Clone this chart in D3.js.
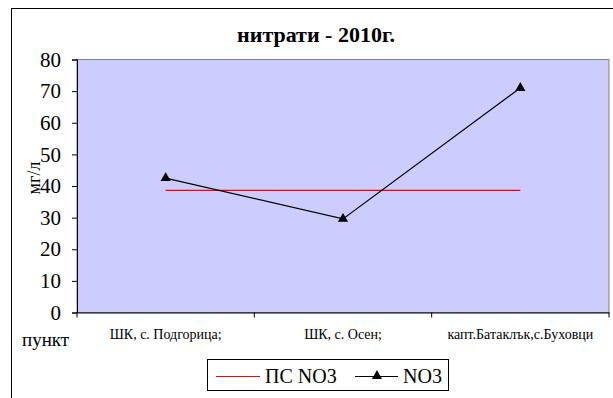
<!DOCTYPE html>
<html><head><meta charset="utf-8">
<script src="https://cdn.jsdelivr.net/npm/d3@7"></script>
<style>body{margin:0;background:#fff}svg{display:block}</style>
</head><body>
<script>
const categories = ["ШК, с. Подгорица;", "ШК, с. Осен;", "капт.Батаклък,с.Буховци"];
const no3Values = [42.5, 29.6, 71.0];
const limitValues = [38.6, 38.6, 38.6];
const yTicks = [0, 10, 20, 30, 40, 50, 60, 70, 80];
const title = "нитрати - 2010г.";
const yLabel = "мг/л";
const xLabel = "пункт";
const seriesNames = ["ПС NO3", "NO3"];

const FONT = '"Liberation Serif"';
const W = 613, H = 398;
const svg = d3.select("body").append("svg").attr("width", W).attr("height", H)
  .style("font-family", FONT);

// chart border
svg.append("rect").attr("x", 11.5).attr("y", 8.5).attr("width", 700).attr("height", 500)
  .attr("fill", "#fff").attr("stroke", "#000").attr("stroke-width", 1);

const pl = 77, pr = 609, pt = 59.5, pb = 312.5;
const x = d3.scaleBand().domain(categories).range([pl, pr]).padding(0);
const y = d3.scaleLinear().domain([0, 80]).range([pb, pt]);

// plot area
svg.append("rect").attr("x", pl).attr("y", pt).attr("width", pr - pl).attr("height", pb - pt)
  .attr("fill", "#ccccff").attr("stroke", "#808080").attr("stroke-width", 1);

// y axis
const yAxis = svg.append("g").attr("transform", `translate(${pl},0)`)
  .call(d3.axisLeft(y).tickValues(yTicks).tickSize(5).tickPadding(11).tickFormat(d3.format("d")));
yAxis.attr("font-family", null).attr("font-size", null);
yAxis.select(".domain").attr("stroke", "#000");
yAxis.selectAll("text").style("font-family", FONT).style("font-size", "21px").attr("fill", "#000");

// x axis
const xAxis = svg.append("g").attr("transform", `translate(0,${pb})`)
  .call(d3.axisBottom(x).tickSize(0).tickPadding(17));
xAxis.attr("font-family", null).attr("font-size", null);
xAxis.select(".domain").attr("stroke", "#000");
xAxis.selectAll("text").style("font-family", FONT).style("font-size", "14px").attr("fill", "#000");
// category boundary ticks
const bounds = categories.map(c => x(c)).concat([x(categories[categories.length - 1]) + x.bandwidth()]);
svg.append("g").selectAll("line").data(bounds).join("line")
  .attr("x1", d => d).attr("x2", d => d).attr("y1", pb).attr("y2", pb + 5)
  .attr("stroke", "#000");

// title
svg.append("text").attr("x", 316).attr("y", 42).attr("text-anchor", "middle")
  .style("font-family", FONT).style("font-weight", "bold").style("font-size", "22px").text(title);

// y label
svg.append("text").attr("transform", `translate(40,178) rotate(-90)`).attr("text-anchor", "middle")
  .style("font-family", FONT).style("font-size", "18px").text(yLabel);

// x label
svg.append("text").attr("x", 22).attr("y", 346)
  .style("font-family", FONT).style("font-size", "19px").text(xLabel);

const cx = c => x(c) + x.bandwidth() / 2;
const line = d3.line().x(d => cx(d[0])).y(d => y(d[1]));

// limit line
svg.append("path").datum(categories.map((c, i) => [c, limitValues[i]]))
  .attr("d", line).attr("fill", "none").attr("stroke", "#ff0000").attr("stroke-width", 1.2);

// NO3 line
svg.append("path").datum(categories.map((c, i) => [c, no3Values[i]]))
  .attr("d", line).attr("fill", "none").attr("stroke", "#000").attr("stroke-width", 1.2);
const tri = d3.symbol().type(d3.symbolTriangle).size(45);
svg.append("g").selectAll("path").data(categories.map((c, i) => [c, no3Values[i]])).join("path")
  .attr("d", tri).attr("transform", d => `translate(${cx(d[0])},${y(d[1])})`).attr("fill", "#000");

// legend
const lg = svg.append("g");
lg.append("rect").attr("x", 207.5).attr("y", 359.5).attr("width", 241).attr("height", 31)
  .attr("fill", "#fff").attr("stroke", "#000");
lg.append("line").attr("x1", 216).attr("x2", 260).attr("y1", 376.5).attr("y2", 376.5)
  .attr("stroke", "#ff0000").attr("stroke-width", 1.2);
lg.append("text").attr("x", 265).attr("y", 383).style("font-family", FONT).style("font-size", "20px").text(seriesNames[0]);
lg.append("line").attr("x1", 355).attr("x2", 398).attr("y1", 376.5).attr("y2", 376.5)
  .attr("stroke", "#000").attr("stroke-width", 1.2);
lg.append("path").attr("d", tri).attr("transform", "translate(377,376)").attr("fill", "#000");
lg.append("text").attr("x", 403).attr("y", 383).style("font-family", FONT).style("font-size", "20px").text(seriesNames[1]);
</script>
</body></html>
